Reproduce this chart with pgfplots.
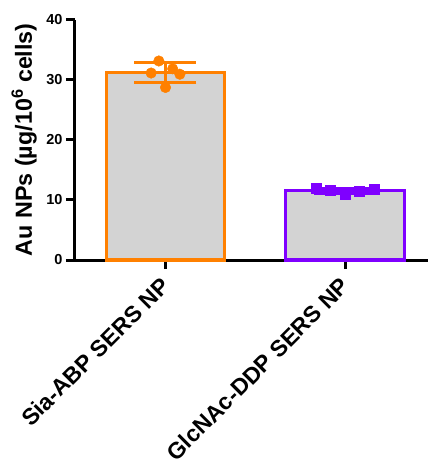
\documentclass[border=0pt]{standalone}
\usepackage{fontspec}
\setmainfont{Liberation Sans}
\usepackage{pgfplots}
\pgfplotsset{compat=1.18}
\definecolor{orng}{RGB}{255,128,0}
\definecolor{purp}{RGB}{127,0,255}
\definecolor{barg}{RGB}{211,211,211}
\begin{document}
\begin{tikzpicture}
\begin{axis}[name=ax, at={(0pt,0pt)}, anchor=south west,
  scale only axis, width=353pt, height=240.5pt,
  xmin=-0.504, xmax=1.462, ymin=0, ymax=40,
  axis x line*=bottom, axis y line*=left,
  axis line style={line width=3pt, -},
  xtick={0,1}, xticklabels={Sia-ABP SERS NP, GlcNAc-DDP SERS NP},
  ytick={0,10,20,30,40},
  tick align=outside, major tick length=9pt,
  tick style={line width=3pt, black},
  /pgf/number format/assume math mode=true,
  yticklabel style={font=\bfseries\fontsize{14.5}{17}\selectfont},
  xticklabel style={rotate=45, anchor=east, inner sep=0pt, xshift=-9pt, yshift=-9pt, font=\bfseries\fontsize{23}{27}\selectfont},
  ylabel={Au NPs (µg/10\textsuperscript{6} cells)},
  ylabel style={font=\bfseries\fontsize{23.3}{28}\selectfont, at={(axis description cs:0,0.5)}, anchor=south, yshift=38pt, inner sep=0pt},
  clip=false,
]
\addplot[ybar, bar shift=0pt, bar width=0.66, fill=barg, draw=orng, line width=3.2pt] coordinates {(0,31.2)};
\addplot[ybar, bar shift=0pt, bar width=0.66, fill=barg, draw=purp, line width=3.2pt] coordinates {(1,11.5)};
\addplot[draw=none, mark=none, error bars/.cd, y dir=both, y explicit,
  error bar style={draw=orng, line width=3pt},
  error mark options={rotate=90, draw=orng, line width=3pt, mark size=31pt}] coordinates {(0,31.2) +- (0,1.6)};
\addplot[draw=none, mark=none, error bars/.cd, y dir=both, y explicit,
  error bar style={draw=purp, line width=3pt},
  error mark options={rotate=90, draw=purp, line width=3pt, mark size=31pt}] coordinates {(1,11.5) +- (0,0.42)};
\addplot[only marks, mark=*, mark size=5.3pt, mark options={draw=orng, fill=orng}] coordinates {(-0.037,33.1) (-0.08,31.1) (0.04,31.8) (0.08,30.9) (0,28.7)};
\addplot[only marks, mark=square*, mark size=5pt, mark options={draw=purp, fill=purp}] coordinates {(0.84,12.0) (0.92,11.55) (1,10.9) (1.08,11.4) (1.16,11.8)};
\end{axis}
\pgfresetboundingbox
\path[use as bounding box] (-75pt,-203pt) rectangle (355pt,260pt);
\end{tikzpicture}
\end{document}
